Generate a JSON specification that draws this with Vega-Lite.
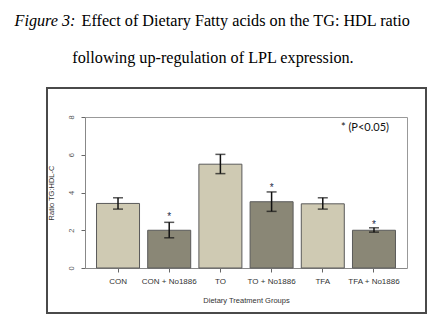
{
  "$schema": "https://vega.github.io/schema/vega-lite/v6.json",
  "width": 379,
  "height": 225,
  "autosize": "none",
  "padding": {"left": 47, "top": 88, "right": 17, "bottom": 16},
  "background": "white",
  "config": {"view": {"stroke": "#4a4a4a", "strokeWidth": 2}},
  "data": {
    "values": [
      {"group": "CON", "type": "diet", "mean": 3.42, "lo": 3.12, "hi": 3.72, "star": null, "sig": ""},
      {"group": "CON + No1886", "type": "No1886", "mean": 2.0, "lo": 1.6, "hi": 2.42, "star": 2.7, "sig": "*"},
      {"group": "TO", "type": "diet", "mean": 5.5, "lo": 5.0, "hi": 6.02, "star": null, "sig": ""},
      {"group": "TO + No1886", "type": "No1886", "mean": 3.51, "lo": 3.0, "hi": 4.03, "star": 4.24, "sig": "*"},
      {"group": "TFA", "type": "diet", "mean": 3.4, "lo": 3.12, "hi": 3.72, "star": null, "sig": ""},
      {"group": "TFA + No1886", "type": "No1886", "mean": 2.0, "lo": 1.9, "hi": 2.13, "star": 2.28, "sig": "*"}
    ]
  },
  "resolve": {"axis": {"x": "independent", "y": "independent"}},
  "layer": [
    {
      "mark": {"type": "bar", "stroke": "#5a5a5a", "strokeWidth": 1},
      "encoding": {
        "x": {
          "field": "group", "type": "nominal",
          "scale": {"domain": ["CON", "CON + No1886", "TO", "TO + No1886", "TFA", "TFA + No1886"], "range": [38, 360], "paddingInner": 0.16, "paddingOuter": 0.225},
          "axis": {
            "orient": "bottom", "offset": -45, "title": "Dietary Treatment Groups", "labelAngle": 0,
            "tickSize": 4, "tickColor": "#666666", "domainColor": "#888888",
            "labelFont": "Liberation Sans", "labelFontSize": 8, "labelColor": "#333333", "labelPadding": 5,
            "titleFont": "Liberation Sans", "titleFontSize": 7.5, "titleFontWeight": "normal", "titleColor": "#333333", "titlePadding": 11
          }
        },
        "y": {
          "field": "mean", "type": "quantitative",
          "scale": {"domain": [0, 8], "range": [180, 29], "nice": false, "zero": false},
          "axis": {
            "orient": "left", "offset": -38, "values": [0, 2, 4, 6, 8], "grid": false,
            "labelAngle": 270, "labelAlign": "center", "labelBaseline": "bottom",
            "tickSize": 4, "tickColor": "#666666", "domainColor": "#888888",
            "labelFont": "Liberation Sans", "labelFontSize": 7.5, "labelColor": "#555555", "labelPadding": 6,
            "title": "Ratio TG:HDL-C", "titleFont": "Liberation Sans", "titleFontSize": 7.5, "titleFontWeight": "normal", "titleColor": "#333333", "titlePadding": 12
          }
        },
        "color": {
          "field": "type", "type": "nominal",
          "scale": {"domain": ["diet", "No1886"], "range": ["#CFCAB3", "#8A8776"]},
          "legend": null
        }
      }
    },
    {
      "mark": {"type": "rule", "strokeWidth": 1.5, "color": "#111111"},
      "encoding": {
        "x": {"field": "group", "type": "nominal", "axis": null},
        "y": {
          "field": "lo", "type": "quantitative",
          "axis": {
            "orient": "right", "offset": -19, "domain": true, "domainColor": "#999999", "ticks": false, "labels": false, "grid": false,
            "title": "following up-regulation of LPL expression.", "titleFont": "Liberation Serif", "titleFontSize": 16.2, "titleFontWeight": "normal", "titleColor": "#000000",
            "titleX": -194.5, "titleY": -26, "titleAlign": "center", "titleBaseline": "alphabetic", "titleAngle": 0
          }
        },
        "y2": {"field": "hi"}
      }
    },
    {
      "mark": {"type": "tick", "orient": "horizontal", "size": 10, "thickness": 1.5, "color": "#111111"},
      "encoding": {
        "x": {
          "field": "group", "type": "nominal",
          "axis": {"orient": "top", "offset": -29, "domain": true, "domainColor": "#999999", "ticks": false, "labels": false, "title": null}
        },
        "y": {
          "field": "lo", "type": "quantitative",
          "axis": {
            "orient": "right", "offset": -19, "domain": false, "ticks": false, "labels": false, "grid": false,
            "title": "Figure 3:", "titleFont": "Liberation Serif", "titleFontStyle": "italic", "titleFontSize": 16.2, "titleFontWeight": "normal", "titleColor": "#000000",
            "titleX": -393, "titleY": -63, "titleAlign": "left", "titleBaseline": "alphabetic", "titleAngle": 0
          }
        }
      }
    },
    {
      "mark": {"type": "tick", "orient": "horizontal", "size": 10, "thickness": 1.5, "color": "#111111"},
      "encoding": {
        "x": {"field": "group", "type": "nominal", "axis": null},
        "y": {
          "field": "hi", "type": "quantitative",
          "axis": {
            "orient": "right", "offset": -19, "domain": false, "ticks": false, "labels": false, "grid": false,
            "title": "Effect of Dietary Fatty acids on the TG: HDL ratio", "titleFont": "Liberation Serif", "titleFontSize": 16.2, "titleFontWeight": "normal", "titleColor": "#000000",
            "titleX": -326, "titleY": -63, "titleAlign": "left", "titleBaseline": "alphabetic", "titleAngle": 0
          }
        }
      }
    },
    {
      "mark": {"type": "text", "font": "Liberation Sans", "fontSize": 10, "baseline": "middle", "align": "center", "color": "#1b2a4a"},
      "encoding": {
        "x": {"field": "group", "type": "nominal", "axis": null},
        "y": {"field": "star", "type": "quantitative", "axis": null},
        "text": {"field": "sig"}
      }
    },
    {
      "data": {"values": [{"group": "TFA + No1886", "y": 7.42, "label": "* (P<0.05)"}]},
      "mark": {"type": "text", "font": "Lato", "fontSize": 11, "baseline": "middle", "align": "center", "dx": -9, "color": "#111111"},
      "encoding": {
        "x": {"field": "group", "type": "nominal", "axis": null},
        "y": {"field": "y", "type": "quantitative", "axis": null},
        "text": {"field": "label"}
      }
    }
  ]
}
